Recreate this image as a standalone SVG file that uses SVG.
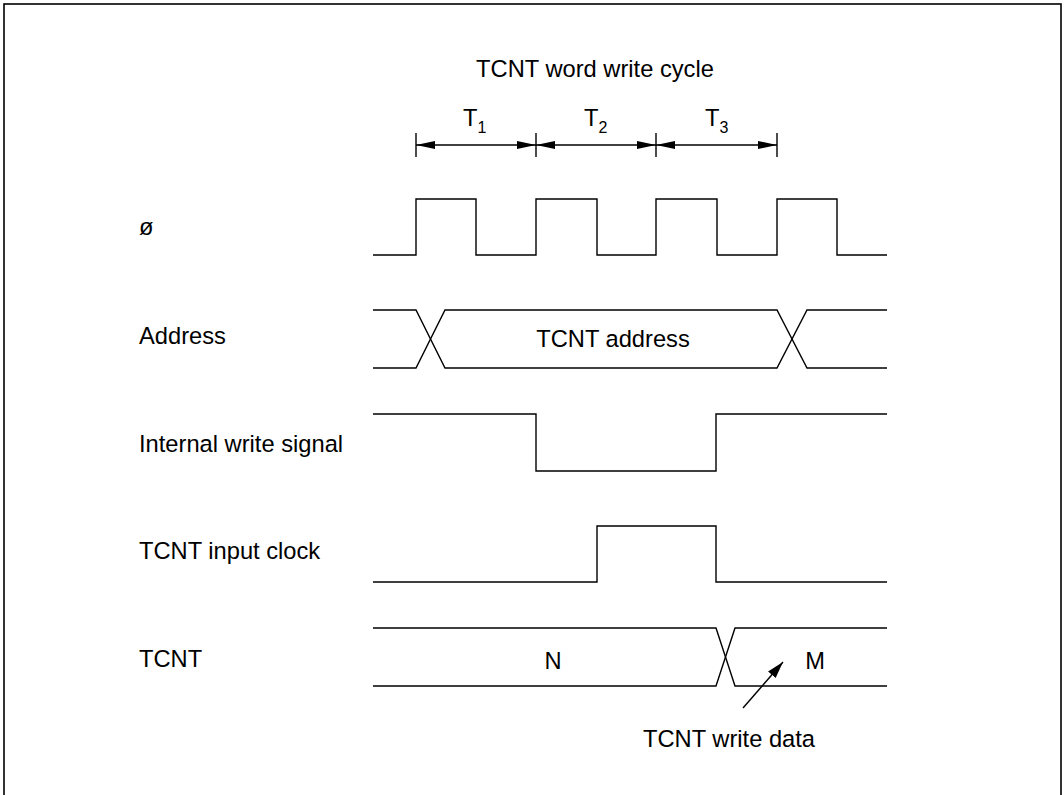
<svg xmlns="http://www.w3.org/2000/svg" width="1064" height="795" viewBox="0 0 1064 795">
<style>
.w{fill:none;stroke:#000;stroke-width:1.4;stroke-linejoin:miter}
.t{font-family:"Liberation Sans",Arial,sans-serif;font-size:23.7px;fill:#000}
.m{text-anchor:middle}
</style>
<defs>
<marker id="ah" markerUnits="userSpaceOnUse" markerWidth="20" markerHeight="10" refX="19" refY="4" orient="auto-start-reverse">
<path d="M0,0 L19,4 L0,8 z" fill="#000"/>
</marker>
<marker id="ah2" markerUnits="userSpaceOnUse" markerWidth="20" markerHeight="12" refX="17" refY="5" orient="auto">
<path d="M0,0 L17,5 L0,10 z" fill="#000"/>
</marker>
</defs>
<rect x="4" y="4" width="1057" height="810" fill="#fff" stroke="#000" stroke-width="1.6"/>
<g id="title">
<text class="t m" x="595" y="77">TCNT word write cycle</text>
</g>
<g id="states">
<text class="t" x="463" y="126" font-size="25">T<tspan font-size="16" dy="7">1</tspan></text>
<text class="t" x="584" y="126" font-size="25">T<tspan font-size="16" dy="7">2</tspan></text>
<text class="t" x="705" y="126" font-size="25">T<tspan font-size="16" dy="7">3</tspan></text>
</g>
<g id="labels">
<text class="t" x="139" y="235">ø</text>
<text class="t" x="139" y="344">Address</text>
<text class="t" x="139" y="452">Internal write signal</text>
<text class="t" x="139" y="559">TCNT input clock</text>
<text class="t" x="139" y="667">TCNT</text>
</g>
<g id="connectors">
<path class="w" d="M416,133 V157 M536,133 V157 M656,133 V157 M777,133 V157"/>
<line class="w" x1="416" y1="145" x2="536" y2="145" marker-start="url(#ah)" marker-end="url(#ah)"/>
<line class="w" x1="536" y1="145" x2="656" y2="145" marker-start="url(#ah)" marker-end="url(#ah)"/>
<line class="w" x1="656" y1="145" x2="777" y2="145" marker-start="url(#ah)" marker-end="url(#ah)"/>
<line class="w" x1="743" y1="708" x2="783" y2="662" marker-end="url(#ah2)"/>
</g>
<g id="clock">
<path class="w" d="M373,255 H416 V199 H476 V255 H536 V199 H597 V255 H656 V199 H717 V255 H777 V199 H837 V255 H887"/>
</g>
<g id="address">
<path class="w" d="M373,310 H416 L445,368 H777 L807,310 H887"/>
<path class="w" d="M373,368 H416 L445,310 H777 L807,368 H887"/>
<text class="t m" x="613" y="347">TCNT address</text>
</g>
<g id="write-signal">
<path class="w" d="M373,414 H536 V471 H716 V414 H887"/>
</g>
<g id="input-clock">
<path class="w" d="M373,582 H597 V526 H716 V582 H887"/>
</g>
<g id="tcnt">
<path class="w" d="M373,628 H716 L735,686 H887"/>
<path class="w" d="M373,686 H716 L735,628 H887"/>
<text class="t m" x="553" y="669">N</text>
<text class="t m" x="815" y="669">M</text>
</g>
<g id="write-data">
<text class="t" x="643" y="747">TCNT write data</text>
</g>
</svg>
